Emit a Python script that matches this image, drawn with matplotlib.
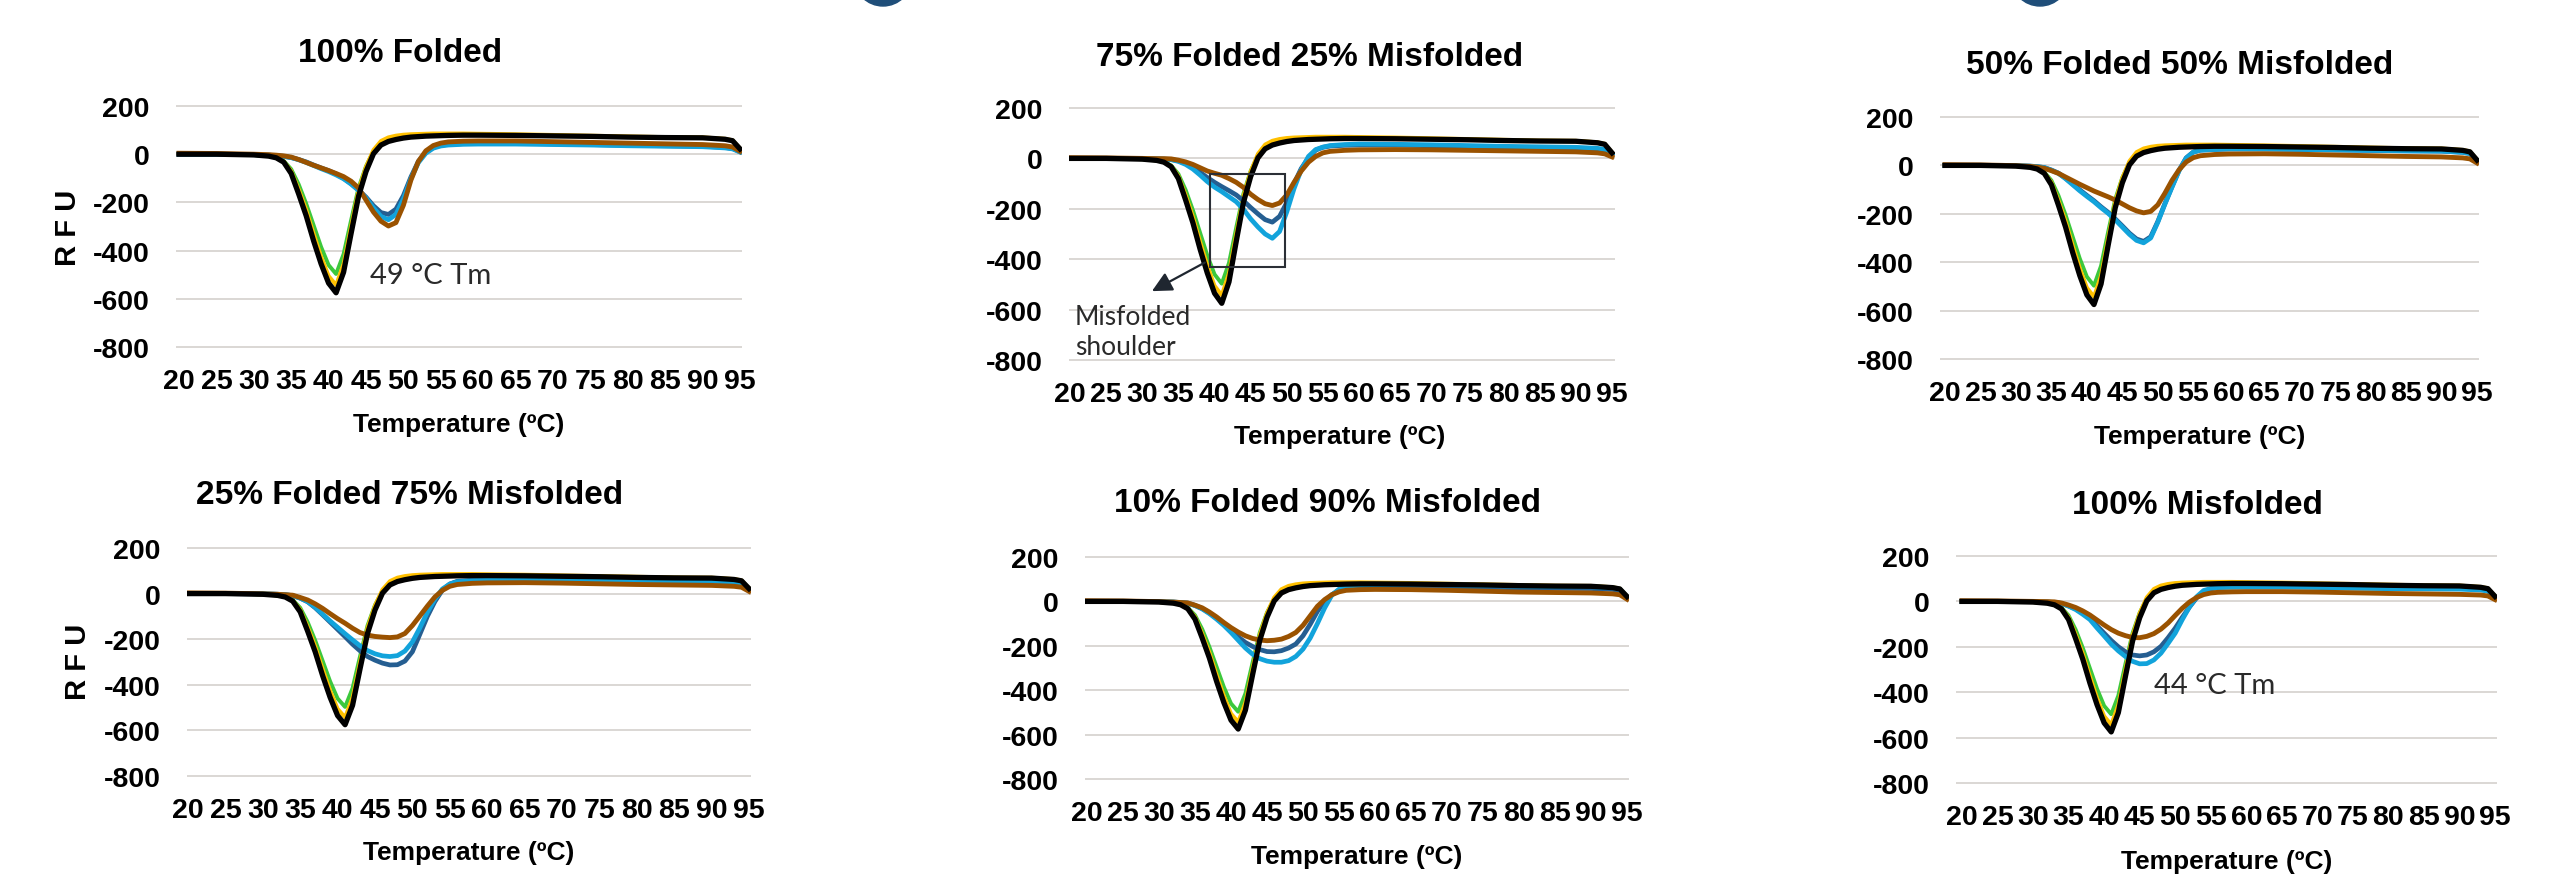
import matplotlib
matplotlib.use('Agg')
import matplotlib.pyplot as plt
from matplotlib.patches import Rectangle, Circle

plt.rcParams['font.family'] = ['Liberation Sans', 'DejaVu Sans']
plt.rcParams['font.weight'] = 'bold'
plt.rcParams['axes.unicode_minus'] = False

W, H = 2558, 878

temps = [20, 25, 30, 32, 33, 34, 35, 36, 37, 38, 39, 40, 41, 42, 43, 44, 45, 46, 47, 48,
         49, 50, 51, 52, 53, 54, 55, 56, 58, 60, 65, 70, 75, 80, 85, 90, 93, 94, 95]

# folded reference curves, the same in every panel
green = [0, 0, -3, -8, -14, -28, -62, -125, -205, -295, -385, -460, -497, -415, -275, -140, -50, 12, 42, 57,
         64, 69, 72, 74, 76, 77, 78, 79, 80, 80, 79, 77, 74, 71, 69, 68, 62, 56, 22]
yellow = [0, 0, -3, -8, -15, -30, -70, -145, -230, -330, -425, -505, -543, -455, -300, -150, -52, 18, 55, 70,
          77, 81, 83, 84, 85, 86, 86, 86, 86, 85, 83, 80, 77, 74, 71, 70, 64, 58, 24]
black = [0, 0, -3, -8, -15, -33, -80, -165, -255, -360, -455, -535, -575, -490, -330, -175, -72, 2, 38, 53,
         61, 67, 71, 73, 75, 76, 77, 78, 79, 79, 78, 76, 74, 71, 69, 68, 62, 56, 22]

# 100% Folded
p1_dark = [0, 0, -2, -4, -6, -9, -14, -22, -32, -45, -57, -68, -82, -100, -122, -148, -178, -214, -242, -250,
           -228, -172, -95, -30, 8, 28, 37, 41, 44, 45, 45, 43, 40, 37, 35, 33, 28, 24, 10]
p1_light = [0, 0, -2, -4, -6, -9, -14, -23, -34, -47, -60, -72, -86, -102, -124, -150, -182, -222, -258, -272,
            -250, -185, -102, -35, 4, 25, 34, 38, 41, 42, 42, 40, 38, 35, 33, 31, 26, 22, 9]
p1_brown = [4, 3, 0, -2, -4, -7, -12, -22, -34, -46, -57, -68, -80, -93, -112, -140, -190, -240, -278, -298,
            -284, -212, -108, -30, 14, 36, 46, 51, 54, 55, 55, 52, 49, 46, 43, 40, 35, 30, 12]

# 75% Folded 25% Misfolded
p2_dark = [0, 0, -1, -2, -3, -4, -10, -20, -35, -55, -76, -95, -112, -128, -145, -168, -195, -220, -243, -253,
           -230, -175, -100, -40, 2, 33, 44, 49, 52, 53, 53, 50, 47, 44, 42, 40, 36, 32, 15]
p2_light = [0, 0, -1, -2, -3, -5, -12, -24, -42, -66, -92, -114, -132, -152, -172, -202, -240, -272, -300, -317,
            -290, -212, -120, -45, 8, 35, 45, 51, 55, 57, 56, 54, 51, 48, 46, 44, 40, 35, 16]
p2_brown = [3, 2, 0, -1, -1, -2, -7, -14, -24, -37, -50, -59, -67, -80, -95, -115, -142, -163, -180, -187,
            -177, -145, -95, -50, -15, 8, 22, 28, 32, 34, 35, 34, 32, 30, 28, 26, 22, 18, 6]

# 50% Folded 50% Misfolded
p3_dark = [0, 0, -1, -3, -5, -9, -19, -32, -53, -77, -101, -124, -146, -171, -194, -221, -250, -280, -304, -314,
           -295, -232, -158, -88, -20, 31, 55, 63, 66, 68, 68, 66, 64, 62, 60, 59, 54, 49, 18]
p3_light = [0, 0, -1, -3, -5, -9, -20, -33, -55, -80, -105, -128, -150, -175, -198, -225, -255, -285, -310, -320,
            -300, -235, -160, -90, -22, 30, 55, 63, 66, 68, 68, 66, 64, 62, 60, 59, 54, 49, 18]
p3_brown = [3, 2, -1, -4, -7, -12, -22, -33, -48, -63, -78, -92, -106, -118, -130, -143, -159, -175, -188, -196,
            -190, -163, -115, -62, -18, 14, 32, 40, 45, 47, 48, 46, 43, 40, 37, 35, 31, 27, 10]

# 25% Folded 75% Misfolded
p4_dark = [0, 0, -1, -3, -5, -9, -20, -36, -62, -93, -125, -157, -189, -222, -251, -276, -292, -305, -313, -312,
           -296, -255, -178, -100, -35, 15, 42, 54, 59, 61, 64, 64, 63, 62, 62, 63, 60, 54, 20]
p4_light = [0, 0, -1, -3, -5, -9, -20, -35, -60, -90, -120, -148, -176, -203, -229, -250, -264, -273, -276, -272,
            -252, -212, -150, -82, -25, 20, 42, 52, 56, 58, 60, 59, 57, 55, 54, 54, 50, 45, 16]
p4_brown = [3, 2, -1, -3, -5, -7, -17, -28, -45, -65, -88, -110, -130, -152, -171, -182, -188, -191, -193, -190,
            -175, -140, -98, -55, -15, 14, 32, 40, 45, 47, 48, 46, 43, 40, 38, 36, 32, 28, 10]

# 10% Folded 90% Misfolded
p5_dark = [0, 0, -1, -3, -5, -8, -18, -32, -52, -75, -102, -130, -160, -185, -203, -217, -226, -227, -222, -210,
           -192, -155, -103, -45, 0, 30, 50, 60, 66, 68, 69, 67, 64, 61, 59, 58, 54, 49, 18]
p5_light = [0, 0, -1, -3, -5, -8, -19, -34, -55, -80, -108, -140, -175, -210, -238, -258, -269, -274, -274, -267,
            -248, -215, -165, -100, -30, 28, 55, 68, 74, 76, 77, 75, 72, 69, 67, 66, 61, 55, 20]
p5_brown = [3, 2, -1, -3, -5, -7, -17, -29, -48, -70, -95, -118, -138, -155, -167, -174, -177, -175, -170, -158,
            -140, -108, -65, -22, 8, 30, 43, 50, 53, 54, 53, 50, 46, 42, 40, 38, 34, 30, 10]

# 100% Misfolded
p6_dark = [0, 0, -1, -3, -5, -9, -20, -33, -52, -74, -108, -140, -172, -200, -222, -236, -240, -236, -222, -198,
           -160, -118, -70, -25, 15, 41, 55, 62, 66, 68, 68, 66, 63, 61, 60, 60, 56, 50, 18]
p6_light = [0, 0, -1, -3, -5, -9, -21, -36, -57, -80, -117, -152, -188, -218, -243, -264, -275, -274, -258, -228,
            -185, -140, -80, -25, 20, 48, 57, 61, 62, 63, 63, 61, 58, 56, 55, 54, 50, 45, 16]
p6_brown = [3, 2, 0, -1, -2, -7, -16, -27, -42, -60, -82, -104, -124, -140, -151, -159, -160, -154, -142, -122,
            -95, -62, -30, -3, 17, 30, 37, 40, 42, 43, 43, 41, 38, 35, 33, 31, 28, 24, 8]

titles = ['100% Folded', '75% Folded 25% Misfolded', '50% Folded 50% Misfolded',
          '25% Folded 75% Misfolded', '10% Folded 90% Misfolded', '100% Misfolded']
panel_curves = [(p1_dark, p1_light, p1_brown), (p2_dark, p2_light, p2_brown),
                (p3_dark, p3_light, p3_brown), (p4_dark, p4_light, p4_brown),
                (p5_dark, p5_light, p5_brown), (p6_dark, p6_light, p6_brown)]
xticks = list(range(20, 96, 5))
yticks = [200, 0, -200, -400, -600, -800]

# pixel layout: gridline box (left, right, y of 200, y of -800), px of 20 and 95 deg,
# title centre, x-label centre
layout = [
    dict(box=(176, 742, 107, 348), x20=179, x95=740, title=(400, 54), xlab=(459, 425), rfu=(68, 228)),
    dict(box=(1069, 1615, 109, 361), x20=1070, x95=1612, title=(1310, 57), xlab=(1340, 437), rfu=None),
    dict(box=(1940, 2479, 118, 360), x20=1945, x95=2477, title=(2180, 66), xlab=(2200, 437), rfu=None),
    dict(box=(187, 751, 549, 777), x20=188, x95=749, title=(410, 496), xlab=(469, 853), rfu=(78, 662)),
    dict(box=(1085, 1629, 558, 780), x20=1087, x95=1627, title=(1328, 504), xlab=(1357, 857), rfu=None),
    dict(box=(1956, 2497, 557, 784), x20=1962, x95=2495, title=(2197, 505), xlab=(2227, 862), rfu=None),
]

c_green, c_yellow, c_black = '#3CC83C', '#FFC000', '#000000'
c_dark, c_light, c_brown = '#255E91', '#12A3DB', '#9A5200'
c_grid = '#DAD7D4'
note_font = ['Lato', 'DejaVu Sans']

fig = plt.figure(figsize=(W / 100, H / 100), dpi=100)

# clipped badges along the top edge
over = fig.add_axes([0, 0, 1, 1])
over.set_xlim(0, W)
over.set_ylim(H, 0)
over.axis('off')
for cx in (883, 2040):
    over.add_patch(Circle((cx, -22), 29, color='#1F4E79'))

axes = []
for i, lay in enumerate(layout):
    left, right, ytop, ybot = lay['box']
    ppd = (lay['x95'] - lay['x20']) / 75.0
    ppu = (ybot - ytop) / 1000.0
    pad_u = 8
    ax = fig.add_axes([left / W, 1 - (ybot + pad_u * ppu) / H,
                       (right - left) / W, (ybot - ytop + 2 * pad_u * ppu) / H])
    ax.set_xlim(20 - (lay['x20'] - left) / ppd, 95 + (right - lay['x95']) / ppd)
    ax.set_ylim(-800 - pad_u, 200 + pad_u)
    for s in ax.spines.values():
        s.set_visible(False)
    ax.set_xticks(xticks)
    ax.set_yticks(yticks)
    ax.tick_params(length=0, labelsize=20.5)
    ax.tick_params(axis='x', pad=14)
    ax.tick_params(axis='y', pad=19)
    ax.yaxis.grid(True, color=c_grid, lw=1.4)
    ax.set_axisbelow(True)

    dark, light, brown = panel_curves[i]
    ax.plot(temps, green, color=c_green, lw=2.8, solid_joinstyle='round', zorder=2)
    ax.plot(temps, yellow, color=c_yellow, lw=2.8, solid_joinstyle='round', zorder=2.1)
    ax.plot(temps, dark, color=c_dark, lw=3.4, solid_joinstyle='round', zorder=3)
    ax.plot(temps, light, color=c_light, lw=3.4, solid_joinstyle='round', zorder=3.1)
    ax.plot(temps, brown, color=c_brown, lw=3.5, solid_joinstyle='round', zorder=3.2)
    ax.plot(temps, black, color=c_black, lw=3.8, solid_joinstyle='round', zorder=4)

    tx, ty = lay['title']
    fig.text(tx / W, 1 - ty / H, titles[i], ha='center', va='center', fontsize=24, fontweight='bold')
    lx, ly = lay['xlab']
    fig.text(lx / W, 1 - ly / H, 'Temperature (ºC)', ha='center', va='center', fontsize=19,
             fontweight='bold')
    if lay['rfu'] is not None:
        rx, ry = lay['rfu']
        fig.text(rx / W, 1 - ry / H, 'R F U', ha='center', va='center', rotation=90, fontsize=21,
                 fontweight='bold')
    axes.append(ax)

# annotations
axes[0].text(45.6, -500, '49 °C Tm', family=note_font, fontweight='normal', fontsize=21,
             color='#2A2A2A', ha='left', va='center', zorder=6)
axes[5].text(47.0, -370, '44 °C Tm', family=note_font, fontweight='normal', fontsize=21,
             color='#2A2A2A', ha='left', va='center', zorder=6)
axes[1].add_patch(Rectangle((39.4, -432), 10.3, 372, fill=False, ec='#2B2F36', lw=1.5, zorder=6))
axes[1].annotate('', xy=(31.0, -532), xytext=(39.0, -408),
                 arrowprops=dict(arrowstyle='-|>', mutation_scale=30, lw=1.6, color='#1F2630'),
                 zorder=6)
axes[1].text(20.7, -686, 'Misfolded\nshoulder', family=note_font, fontweight='normal', fontsize=19,
             color='#2A2A2A', ha='left', va='center', linespacing=1.25, zorder=6)

fig.savefig('out.png', dpi=100)
